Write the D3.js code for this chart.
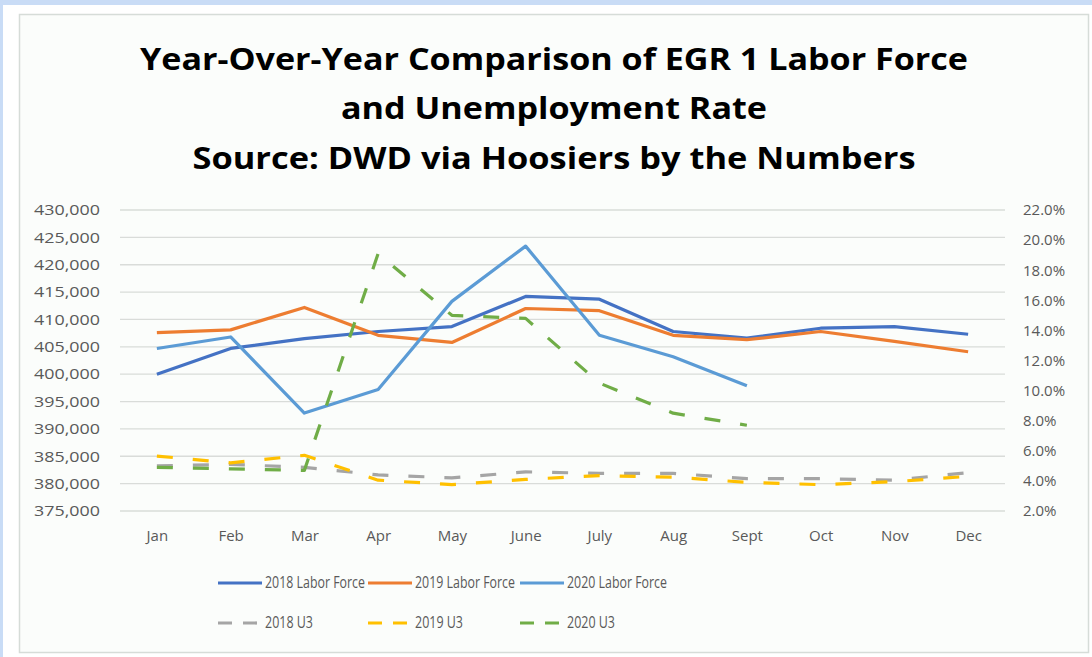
<!DOCTYPE html>
<html><head><meta charset="utf-8">
<script src="https://cdn.jsdelivr.net/npm/d3@7"></script>
<style>
html,body{margin:0;padding:0;background:#c9dcf6;}
svg{display:block;}
</style></head>
<body>
<svg id="chart" width="1092" height="657"></svg>
<script>
const months = ["Jan","Feb","Mar","Apr","May","June","July","Aug","Sept","Oct","Nov","Dec"];
const lf2018 = [400000,404700,406500,407800,408700,414200,413700,407800,406600,408400,408700,407300];
const lf2019 = [407600,408100,412200,407100,405800,412000,411600,407100,406300,407800,406000,404100];
const lf2020 = [404700,406800,392900,397200,413300,423400,407100,403200,397900];
const u3_2018 = [5.0,5.1,4.9,4.4,4.2,4.6,4.5,4.5,4.15,4.15,4.05,4.55];
const u3_2019 = [5.65,5.2,5.7,4.05,3.75,4.1,4.35,4.25,3.9,3.75,3.95,4.3];
const u3_2020 = [4.9,4.8,4.7,19.1,15.0,14.8,10.5,8.5,7.7];
const leftTicks = [375000,380000,385000,390000,395000,400000,405000,410000,415000,420000,425000,430000];
const rightTicks = [2,4,6,8,10,12,14,16,18,20,22];
const titleLines = ["Year-Over-Year Comparison of EGR 1 Labor Force","and Unemployment Rate","Source: DWD via Hoosiers by the Numbers"];

const series = [
  {name:"2018 Labor Force", data:lf2018, axis:"L", color:"#4472C4", dash:null},
  {name:"2019 Labor Force", data:lf2019, axis:"L", color:"#ED7D31", dash:null},
  {name:"2020 Labor Force", data:lf2020, axis:"L", color:"#5B9BD5", dash:null},
  {name:"2018 U3", data:u3_2018, axis:"R", color:"#A5A5A5", dash:"16,20"},
  {name:"2019 U3", data:u3_2019, axis:"R", color:"#FFC000", dash:"16,20"},
  {name:"2020 U3", data:u3_2020, axis:"R", color:"#70AD47", dash:"16,20"}
];
const svg = d3.select("#chart");
svg.append("rect").attr("x",3).attr("y",5).attr("width",1089).attr("height",652).attr("fill","#ffffff");
svg.append("rect").attr("x",19.5).attr("y",14.5).attr("width",1069).attr("height",638)
  .attr("fill","#fbfdfb").attr("stroke","#d6dcd8").attr("stroke-width",1.5);

const plot = {left:120, right:1005, top:210, bottom:511};
const x = d3.scalePoint().domain(months).range([plot.left, plot.right]).padding(0.5);
const yL = d3.scaleLinear().domain([375000,430000]).range([plot.bottom, plot.top]);
const yR = d3.scaleLinear().domain([2,22]).range([plot.bottom, plot.top]);

const font = "'Open Sans', 'Noto Sans', sans-serif";
// title
const titleY = [70,119,169];
const titleW = [828,426,723];
titleLines.forEach((t,i)=>{
  svg.append("text").attr("x",554).attr("y",titleY[i]).attr("text-anchor","middle")
    .attr("font-family",font).attr("font-weight","bold")
    .attr("font-size",31).attr("fill","#000")
    .attr("textLength",titleW[i]).attr("lengthAdjust","spacingAndGlyphs").text(t);
});

// gridlines
svg.append("g").selectAll("line").data(leftTicks).join("line")
  .attr("x1",plot.left).attr("x2",plot.right)
  .attr("y1",d=>yL(d)).attr("y2",d=>yL(d))
  .attr("stroke","#d9dcd9").attr("stroke-width",1.3);

const fmt = d3.format(",");
const gL = svg.append("g").attr("transform",`translate(${plot.left},0)`)
  .call(d3.axisLeft(yL).tickValues(leftTicks).tickFormat(fmt).tickSize(0).tickPadding(20));
gL.select(".domain").remove();
gL.selectAll("text").attr("font-family",font).attr("font-size",15).attr("fill","#595959")
  .attr("textLength",66).attr("lengthAdjust","spacingAndGlyphs");

const gR = svg.append("g").attr("transform",`translate(${plot.right},0)`)
  .call(d3.axisRight(yR).tickValues(rightTicks).tickFormat(d=>d.toFixed(1)+"%").tickSize(0).tickPadding(18));
gR.select(".domain").remove();
gR.selectAll("text").attr("font-family",font).attr("font-size",15).attr("fill","#595959");

const gX = svg.append("g").attr("transform",`translate(0,${plot.bottom})`)
  .call(d3.axisBottom(x).tickSize(0).tickPadding(19));
gX.select(".domain").remove();
gX.selectAll("text").attr("font-family",font).attr("font-size",15).attr("fill","#595959");

series.forEach(s=>{
  const yS = s.axis==="L" ? yL : yR;
  const line = d3.line().x((d,j)=>x(months[j])).y(d=>yS(d));
  svg.append("path").datum(s.data).attr("d",line)
    .attr("fill","none").attr("stroke",s.color).attr("stroke-width",3.2)
    .attr("stroke-linejoin","round")
    .attr("stroke-dasharray",s.dash);
});

// legend
const legX = [218,368,520];
const legY = [583,623];
series.forEach((s,i)=>{
  const lx = legX[i%3], ly = legY[Math.floor(i/3)];
  svg.append("line").attr("x1",lx).attr("x2",lx+44).attr("y1",ly).attr("y2",ly)
    .attr("stroke",s.color).attr("stroke-width",3.2)
    .attr("stroke-dasharray", s.dash ? "14,11" : null);
  svg.append("text").attr("x",lx+47).attr("y",ly+5)
    .attr("font-family",font).attr("font-size",15.5).attr("fill","#595959")
    .attr("textLength", s.dash ? 48 : 100).attr("lengthAdjust","spacingAndGlyphs")
    .text(s.name);
});
</script>
</body></html>
